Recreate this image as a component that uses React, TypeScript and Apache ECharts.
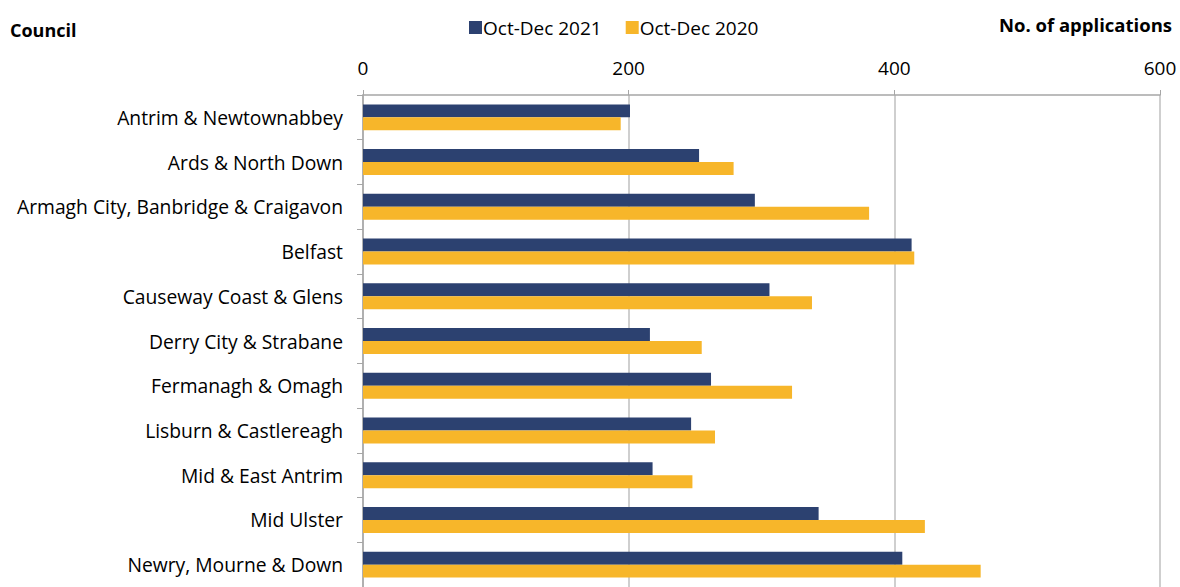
import React, { useEffect, useRef } from "react";
import * as echarts from "echarts";

const categories = [
  "Antrim & Newtownabbey",
  "Ards & North Down",
  "Armagh City, Banbridge & Craigavon",
  "Belfast",
  "Causeway Coast & Glens",
  "Derry City & Strabane",
  "Fermanagh & Omagh",
  "Lisburn & Castlereagh",
  "Mid & East Antrim",
  "Mid Ulster",
  "Newry, Mourne & Down",
];
const series2021 = [201, 253, 295, 413, 306, 216, 262, 247, 218, 343, 406];
const series2020 = [194, 279, 381, 415, 338, 255, 323, 265, 248, 423, 465];
const xTicks = [0, 200, 400, 600];

const FONT = "'Open Sans', Lato, sans-serif";

export default function App() {
  const ref = useRef<HTMLDivElement>(null);
  useEffect(() => {
    document.body.style.margin = "0";
    const chart = echarts.init(ref.current!, null, { renderer: "svg" });
    chart.setOption({
      animation: false,
      backgroundColor: "#ffffff",
      textStyle: { fontFamily: FONT },
      legend: {
        top: 13,
        left: 464,
        itemWidth: 13,
        itemHeight: 13,
        itemGap: 24,
        icon: "rect",
        textStyle: { fontSize: 19, color: "#000", fontFamily: FONT, padding: [0, 0, 0, -4] },
        data: ["Oct-Dec 2021", "Oct-Dec 2020"],
      },
      graphic: [
        {
          type: "text",
          left: 10,
          top: 21,
          style: { text: "Council", fontSize: 18, fontWeight: "bold", fill: "#000", fontFamily: FONT },
        },
        {
          type: "text",
          right: 8,
          top: 15,
          style: { text: "No. of applications", fontSize: 18.5, fontWeight: "bold", fill: "#000", fontFamily: FONT },
        },
      ],
      grid: { left: 363, top: 95, width: 797, height: 497, containLabel: false },
      xAxis: {
        type: "value",
        position: "top",
        min: xTicks[0],
        max: xTicks[xTicks.length - 1],
        interval: 200,
        axisLine: { show: true, lineStyle: { color: "#a6a6a6", width: 1.5 } },
        axisTick: { show: true, length: 5, lineStyle: { color: "#a6a6a6" } },
        axisLabel: { fontSize: 19, color: "#000", margin: 18, fontFamily: FONT },
        splitLine: { show: true, lineStyle: { color: "#bfbfbf", width: 1.5 } },
      },
      yAxis: {
        type: "category",
        inverse: true,
        data: categories,
        axisLine: { show: true, lineStyle: { color: "#a6a6a6", width: 1.5 } },
        axisTick: { show: true, length: 6, lineStyle: { color: "#a6a6a6" } },
        axisLabel: { fontSize: 19.3, color: "#000", margin: 20, fontFamily: FONT },
      },
      series: [
        {
          name: "Oct-Dec 2021",
          type: "bar",
          data: series2021,
          barGap: "0%",
          barCategoryGap: "42%",
          itemStyle: { color: "#2c4170" },
        },
        {
          name: "Oct-Dec 2020",
          type: "bar",
          data: series2020,
          barGap: "0%",
          barCategoryGap: "42%",
          itemStyle: { color: "#f7b62a" },
        },
      ],
    });
    return () => chart.dispose();
  }, []);
  return <div ref={ref} style={{ width: 1180, height: 587 }} />;
}
